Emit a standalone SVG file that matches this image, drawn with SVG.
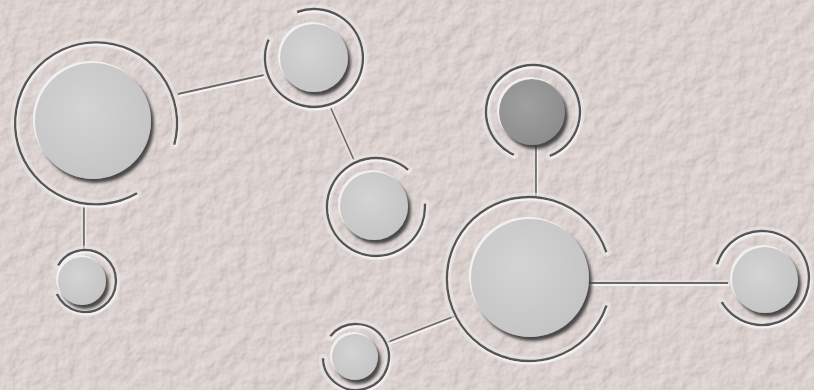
<svg xmlns="http://www.w3.org/2000/svg" width="814" height="390" viewBox="0 0 814 390">
  <defs>
    <filter id="stucco" x="0" y="0" width="814" height="390" filterUnits="userSpaceOnUse">
      <feTurbulence type="fractalNoise" baseFrequency="0.07" numOctaves="3" seed="7" result="n"/>
      <feDiffuseLighting in="n" surfaceScale="1.4" diffuseConstant="1" lighting-color="#e9dfdc" result="l">
        <feDistantLight azimuth="225" elevation="60"/>
      </feDiffuseLighting>
    </filter>
    <filter id="groove" x="0" y="0" width="814" height="390" filterUnits="userSpaceOnUse">
      <feOffset in="SourceAlpha" dx="1.4" dy="1.6" result="o"/>
      <feFlood flood-color="#f4f2f2" result="w"/>
      <feComposite in="w" in2="o" operator="in" result="hi"/>
      <feMerge><feMergeNode in="hi"/><feMergeNode in="SourceGraphic"/></feMerge>
    </filter>
    <filter id="bump" x="-30%" y="-30%" width="160%" height="160%">
      <feGaussianBlur in="SourceAlpha" stdDeviation="1.8" result="b"/>
      <feOffset in="b" dx="2.5" dy="3.5" result="sh"/>
      <feFlood flood-color="#3a3a3a" flood-opacity="0.9"/>
      <feComposite in2="sh" operator="in" result="shadow"/>
      <feOffset in="SourceAlpha" dx="-2" dy="-2" result="ho"/>
      <feFlood flood-color="#f1f0f0"/>
      <feComposite in2="ho" operator="in" result="hl"/>
      <feMerge><feMergeNode in="hl"/><feMergeNode in="shadow"/><feMergeNode in="SourceGraphic"/></feMerge>
    </filter>
    <radialGradient id="diskFill" cx="0.42" cy="0.4" r="0.65">
      <stop offset="0" stop-color="#d4d4d4"/>
      <stop offset="1" stop-color="#c4c4c4"/>
    </radialGradient>
    <radialGradient id="diskDark" cx="0.42" cy="0.4" r="0.65">
      <stop offset="0" stop-color="#a0a0a0"/>
      <stop offset="1" stop-color="#8c8c8c"/>
    </radialGradient>
  </defs>
  <style>
    .band { fill: none; stroke: #ebe8e6; stroke-width: 9; stroke-opacity: 0.6; stroke-linecap: round; }
    .ring { fill: none; stroke: #575555; stroke-width: 2.4; stroke-linecap: butt; filter: url(#groove); }
    .disk { fill: url(#diskFill); filter: url(#bump); }
    .dark { fill: url(#diskDark); }
    .link { stroke: #696767; stroke-width: 1.8; fill: none; filter: url(#groove); }
    .linkband { stroke: #ebe8e6; stroke-width: 6; stroke-opacity: 0.5; fill: none; }
  </style>

  <rect x="0" y="0" width="814" height="390" fill="#d3cbc8"/>
  <rect x="0" y="0" width="814" height="390" filter="url(#stucco)"/>

  <g id="connectors">
    <line class="linkband" x1="178" y1="94" x2="264" y2="75"/>
    <line class="link" x1="178" y1="94" x2="264" y2="75"/>
    <line class="linkband" x1="329" y1="104" x2="354" y2="160"/>
    <line class="link" x1="329" y1="104" x2="354" y2="160"/>
    <line class="linkband" x1="84" y1="204" x2="84" y2="250"/>
    <line class="link" x1="84" y1="204" x2="84" y2="250"/>
    <line class="linkband" x1="536" y1="145" x2="536" y2="198"/>
    <line class="link" x1="536" y1="145" x2="536" y2="198"/>
    <line class="linkband" x1="588" y1="283" x2="728" y2="283"/>
    <line class="link" x1="588" y1="283" x2="728" y2="283"/>
    <line class="linkband" x1="388" y1="342" x2="455" y2="316"/>
    <line class="link" x1="388" y1="342" x2="455" y2="316"/>
  </g>

  <g id="node-a">
    <path class="band" d="M137,193.3 A81,81 0 1 1 174.3,144.7"/>
    <path class="ring" d="M137,193.3 A81,81 0 1 1 174.3,144.7"/>
    <circle class="disk" cx="93" cy="121" r="58"/>
  </g>

  <g id="node-b">
    <path class="band" d="M297.2,12 A49,49 0 1 1 268.6,39.6"/>
    <path class="ring" d="M297.2,12 A49,49 0 1 1 268.6,39.6"/>
    <circle class="disk" cx="314" cy="58" r="34"/>
  </g>

  <g id="node-c">
    <path class="band" d="M424.9,203.6 A49,49 0 1 1 408.1,170"/>
    <path class="ring" d="M424.9,203.6 A49,49 0 1 1 408.1,170"/>
    <circle class="disk" cx="374" cy="206" r="34"/>
  </g>

  <g id="node-d">
    <path class="band" d="M606.5,305.7 A82,82 0 1 1 606.5,252.3"/>
    <path class="ring" d="M606.5,305.7 A82,82 0 1 1 606.5,252.3"/>
    <circle class="disk" cx="530" cy="278" r="59"/>
  </g>

  <g id="node-e">
    <path class="band" d="M58.2,265.5 A31,31 0 1 1 56.9,294.1"/>
    <path class="ring" d="M58.2,265.5 A31,31 0 1 1 56.9,294.1"/>
    <circle class="disk" cx="82" cy="281" r="24"/>
  </g>

  <g id="node-f">
    <path class="band" d="M717.1,264.3 A47,47 0 1 1 721.7,302.2"/>
    <path class="ring" d="M717.1,264.3 A47,47 0 1 1 721.7,302.2"/>
    <circle class="disk" cx="765" cy="280" r="33"/>
  </g>

  <g id="node-g">
    <path class="band" d="M513.9,154.9 A47,47 0 1 1 549.8,155.9"/>
    <path class="ring" d="M513.9,154.9 A47,47 0 1 1 549.8,155.9"/>
    <circle class="disk dark" cx="532" cy="112" r="33"/>
  </g>

  <g id="node-h">
    <path class="band" d="M330.4,336.2 A33,33 0 1 1 323,358.2"/>
    <path class="ring" d="M330.4,336.2 A33,33 0 1 1 323,358.2"/>
    <circle class="disk" cx="355" cy="357" r="23"/>
  </g>
</svg>
